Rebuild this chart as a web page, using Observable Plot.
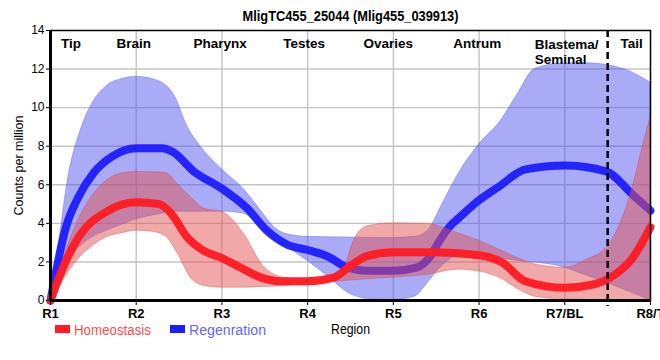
<!DOCTYPE html>
<html>
<head>
<meta charset="utf-8">
<script src="https://cdn.jsdelivr.net/npm/d3@7"></script>
<script src="https://cdn.jsdelivr.net/npm/@observablehq/plot@0.6"></script>
<style>
  html, body { margin: 0; padding: 0; background: #fff; }
  #chart svg { display: block; }
</style>
</head>
<body>
<div id="chart"></div>
<script>
// ---- data (x = region index, R1 = 0 ... R8/T = 7) ----
const title = "MligTC455_25044 (Mlig455_039913)";
const regionTicks = ["R1", "R2", "R3", "R4", "R5", "R6", "R7/BL", "R8/T"];
const regionNames = ["Tip", "Brain", "Pharynx", "Testes", "Ovaries", "Antrum", "Tail"];
const regionNamePos = [0.24, 0.97, 1.98, 2.96, 3.94, 4.98, 6.78];
const blastemaLines = ["Blastema/", "Seminal"];
const blastemaPos = [5.65];
const tailBoundary = [6.5];

// Homeostasis mean line
const homX = [0, 0.18, 0.33, 0.65, 1.0, 1.27, 1.41, 1.59, 1.78, 2.0, 2.22, 2.45, 2.69, 3.0, 3.31, 3.5, 3.69, 4.0, 4.46, 5.0, 5.27, 5.54, 6.0, 6.33, 6.56, 6.79, 7.0];
const homY = [0, 2.05, 3.3, 4.6, 5.1, 5.0, 4.5, 3.3, 2.6, 2.2, 1.7, 1.2, 1.0, 1.0, 1.2, 1.8, 2.3, 2.5, 2.5, 2.35, 1.97, 1.0, 0.66, 0.83, 1.27, 2.2, 3.8];

// Regeneration mean line
const regX = [0, 0.18, 0.33, 0.5, 0.73, 1.0, 1.3, 1.43, 1.67, 2.0, 2.29, 2.53, 2.76, 3.0, 3.25, 3.42, 3.7, 4.0, 4.27, 4.42, 4.54, 4.65, 4.77, 5.0, 5.23, 5.54, 6.0, 6.48, 6.79, 7.0];
const regY = [0, 3.8, 5.4, 6.6, 7.5, 7.9, 7.9, 7.7, 6.7, 5.8, 4.8, 3.6, 2.9, 2.62, 2.25, 1.8, 1.54, 1.54, 1.7, 2.23, 3.1, 3.8, 4.3, 5.2, 5.9, 6.8, 7.0, 6.7, 5.5, 4.66];

// Homeostasis band
const homBandX = [0, 0.1, 0.2, 0.35, 0.5, 0.65, 0.85, 1.0, 1.2, 1.35, 1.5, 1.65, 1.8, 2.0, 2.25, 2.5, 2.75, 3.0, 3.25, 3.4, 3.55, 3.7, 4.0, 4.4, 4.75, 5.0, 5.25, 5.45, 5.65, 6.0, 6.25, 6.5, 6.65, 6.8, 6.9, 7.0];
const homLow  = [0, 0.7, 1.4, 2.25, 2.85, 3.27, 3.5, 3.62, 3.55, 3.3, 2.3, 1.1, 0.75, 0.66, 0.66, 0.7, 0.75, 0.85, 0.95, 1.0, 1.05, 1.1, 1.19, 1.33, 1.6, 1.5, 1.15, 0.6, 0.2, 0.05, 0.03, 0.02, 0.01, 0, 0, 0];
const homHigh = [0, 1.5, 2.8, 4.4, 5.5, 6.2, 6.6, 6.66, 6.65, 6.6, 5.95, 5.3, 4.75, 4.6, 3.5, 1.7, 1.15, 1.05, 1.05, 1.4, 3.2, 3.85, 4.0, 3.97, 3.5, 3.1, 2.6, 2.2, 1.88, 1.7, 2.1, 2.8, 4.0, 6.0, 7.8, 9.5];

// Regeneration band
const regBandX = [0, 0.1, 0.2, 0.35, 0.5, 0.65, 0.85, 1.0, 1.25, 1.45, 1.6, 1.75, 2.0, 2.25, 2.5, 2.6, 2.75, 3.0, 3.25, 3.45, 3.7, 4.0, 4.25, 4.4, 4.55, 4.75, 5.0, 5.25, 5.45, 5.65, 6.0, 6.25, 6.5, 6.75, 7.0];
const regLow  = [0, 1.2, 2.1, 2.8, 3.3, 3.6, 3.95, 4.2, 4.45, 4.6, 4.6, 4.6, 4.6, 4.5, 3.6, 3.2, 2.8, 2.05, 1.2, 0.45, 0.08, 0.03, 0.2, 0.9, 1.7, 2.3, 2.4, 2.2, 2.05, 1.97, 1.7, 1.3, 0.9, 0.45, 0];
const regHigh = [0, 3.0, 6.2, 8.8, 10.3, 11.1, 11.5, 11.6, 11.4, 10.6, 9.0, 8.0, 6.8, 5.8, 4.4, 3.85, 3.45, 3.3, 3.28, 3.27, 3.25, 3.24, 3.3, 3.6, 4.8, 6.5, 8.1, 9.3, 10.7, 12.0, 12.3, 12.3, 12.2, 11.9, 11.3];

const seriesNames = ["Homeostasis", "Regenration"];
const seriesColors = ["#ff1c24", "#1c1cff"];
const legendTextColors = ["#ff4d4d", "#6464ff"];

// ---- tables ----
const homLine = homX.map((x, i) => ({x, y: homY[i]}));
const regLine = regX.map((x, i) => ({x, y: regY[i]}));
const homBand = homBandX.map((x, i) => ({x, lo: homLow[i], hi: homHigh[i]}));
const regBand = regBandX.map((x, i) => ({x, lo: regLow[i], hi: regHigh[i]}));
const nameRows = regionNames.map((n, i) => ({n, x: regionNamePos[i]}));
const blastemaRows = [{n: blastemaLines.join("\n"), x: blastemaPos[0]}];

const narrow = "'Liberation Sans Narrow', 'Arial Narrow', 'Liberation Sans', sans-serif";
const sans = "'Liberation Sans', Arial, sans-serif";

const plot = Plot.plot({
  width: 660,
  height: 360,
  marginTop: 30,
  marginBottom: 60,
  marginLeft: 50,
  marginRight: 10,
  style: {fontFamily: sans, fontSize: "12px", background: "#fff", color: "#000"},
  x: {domain: [0, 7]},
  y: {domain: [0, 14]},
  marks: [
    Plot.gridY(d3.range(2, 14, 2), {stroke: "#c4c4c4", strokeOpacity: 1, strokeWidth: 1.4}),
    Plot.gridX(d3.range(1, 7), {stroke: "#c4c4c4", strokeOpacity: 1, strokeWidth: 1.4}),
    Plot.areaY(regBand, {x: "x", y1: "lo", y2: "hi", curve: "monotone-x", fill: "rgb(75,79,239)", fillOpacity: 0.48, stroke: "rgb(75,79,239)", strokeOpacity: 0.35, strokeWidth: 1}),
    Plot.line(regLine, {x: "x", y: "y", curve: "monotone-x", stroke: seriesColors[1], strokeWidth: 8, strokeOpacity: 0.95}),
    Plot.areaY(homBand, {x: "x", y1: "lo", y2: "hi", curve: "monotone-x", fill: "rgb(225,81,81)", fillOpacity: 0.5, stroke: "rgb(215,60,60)", strokeOpacity: 0.35, strokeWidth: 1}),
    Plot.line(homLine, {x: "x", y: "y", curve: "monotone-x", stroke: seriesColors[0], strokeWidth: 8, strokeOpacity: 0.97}),
    Plot.ruleX(tailBoundary, {stroke: "#000", strokeWidth: 2.5, strokeDasharray: "7,4", insetBottom: -6}),
    Plot.frame({stroke: "#000", strokeWidth: 1.5}),
    Plot.ruleX([0], {stroke: "#000", strokeWidth: 3}),
    Plot.ruleY([0], {stroke: "#000", strokeWidth: 3}),
    Plot.axisY({ticks: d3.range(0, 15, 2), tickSize: 4, tickPadding: 2, fontSize: 12,
      label: "Counts per million", labelAnchor: "center", labelArrow: "none", labelOffset: 36}),
    Plot.axisX({ticks: d3.range(0, 8), tickFormat: d => regionTicks[d], tickSize: 5, tickPadding: 3,
      fontSize: 13, fontWeight: "bold", fontFamily: narrow, label: null}),
    Plot.text(["Region"], {frameAnchor: "bottom", dy: 33, fontSize: 15, fontFamily: narrow, fill: "#000"}),
    Plot.text(nameRows, {x: "x", text: "n", frameAnchor: "top", dy: 8, textAnchor: "middle", lineAnchor: "top",
      fontWeight: "bold", fontSize: 13.5, fontFamily: sans}),
    Plot.text(blastemaRows, {x: "x", text: "n", frameAnchor: "top", dy: 8, textAnchor: "start", lineAnchor: "top",
      fontWeight: "bold", fontSize: 13.5, fontFamily: sans, lineHeight: 1.12}),
    Plot.text([title], {frameAnchor: "top", dy: -20, fontWeight: "bold", fontSize: 15, fontFamily: narrow})
  ]
});

const svg = d3.select(plot);
svg.selectAll("g[aria-label='y-axis label'] text").attr("font-size", 12.5);

// compress narrow-font texts to the reference widths
svg.selectAll("text").filter(function() { return this.textContent === title; })
  .attr("textLength", 216).attr("lengthAdjust", "spacingAndGlyphs");
svg.selectAll("text").filter(function() { return this.textContent === "Region"; })
  .attr("textLength", 39).attr("lengthAdjust", "spacingAndGlyphs");
svg.selectAll("g[aria-label='x-axis tick label'] text").each(function() {
  const w = this.getComputedTextLength();
  d3.select(this).attr("textLength", w * 0.9).attr("lengthAdjust", "spacingAndGlyphs");
});

// legend in the bottom margin
const legend = svg.append("g").attr("font-family", narrow).attr("font-size", 15.5).attr("text-anchor", "start");
const legendX = [55, 170];
seriesNames.forEach((name, i) => {
  legend.append("rect").attr("x", legendX[i]).attr("y", 325).attr("width", 15).attr("height", 8)
    .attr("fill", seriesColors[i]);
  legend.append("text").attr("x", legendX[i] + 19).attr("y", 335).attr("fill", legendTextColors[i])
    .attr("textLength", 77).attr("lengthAdjust", "spacingAndGlyphs").text(name);
});

document.getElementById("chart").appendChild(plot);
</script>
</body>
</html>
